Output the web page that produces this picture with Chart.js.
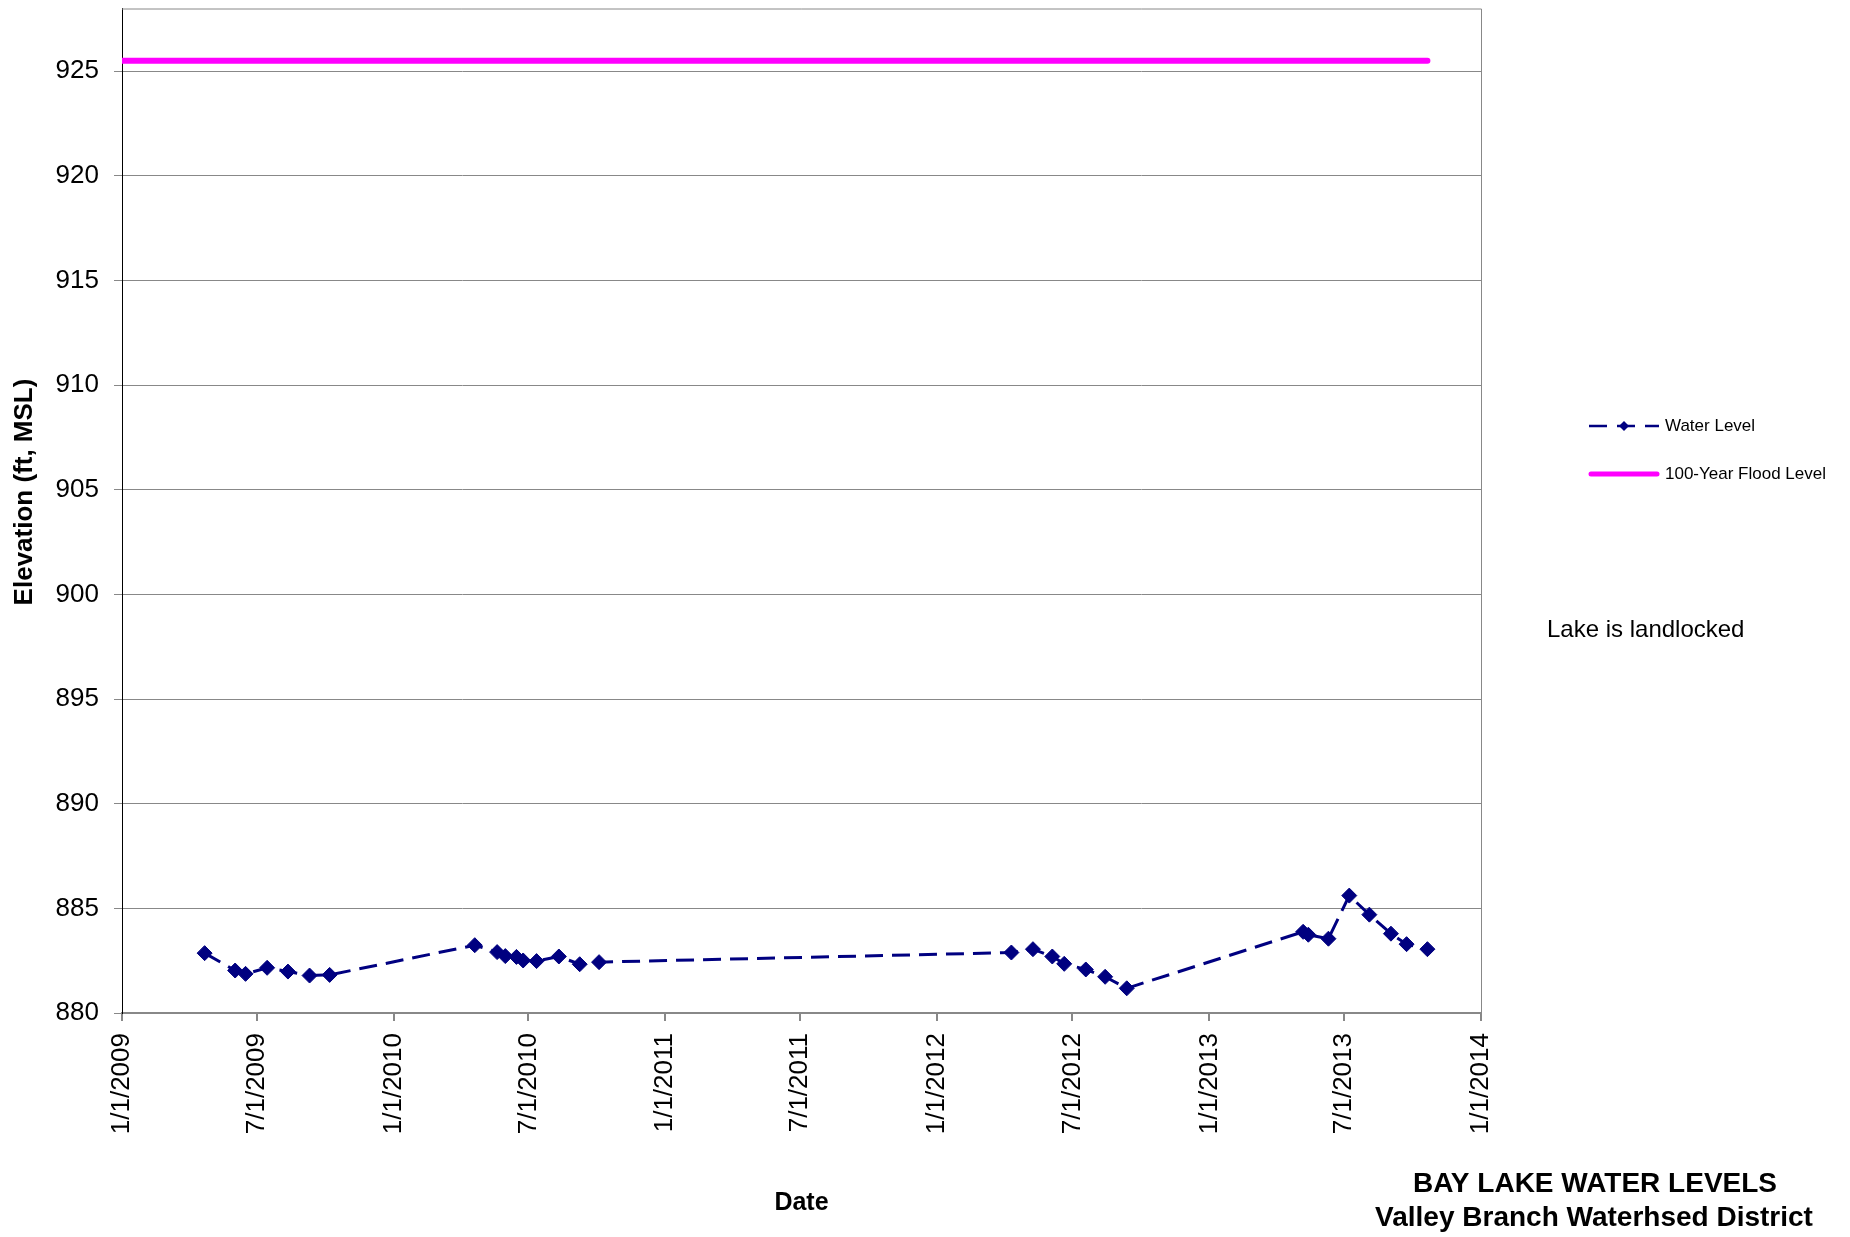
<!DOCTYPE html>
<html>
<head>
<meta charset="utf-8">
<script src="https://cdn.jsdelivr.net/npm/chart.js@4.4.1/dist/chart.umd.min.js"></script>
<style>
  html, body { margin: 0; padding: 0; background: #fff; }
  #wrap { width: 1850px; height: 1237px; position: relative; }
</style>
</head>
<body>
<div id="wrap"><canvas id="myChart"></canvas></div>
<script>
// water level readings
const dates = [
  '2009-04-22', '2009-06-02', '2009-06-16', '2009-07-15', '2009-08-12', '2009-09-10', '2009-10-07',
  '2010-04-20', '2010-05-20', '2010-05-31', '2010-06-15', '2010-06-24', '2010-07-12', '2010-08-11', '2010-09-08', '2010-10-04',
  '2012-04-10', '2012-05-09', '2012-06-04', '2012-06-20', '2012-07-19', '2012-08-14', '2012-09-12',
  '2013-05-07', '2013-05-14', '2013-06-10', '2013-07-08', '2013-08-04', '2013-09-02', '2013-09-23', '2013-10-21'
];
const levels = [
  882.86, 882.03, 881.87, 882.16, 881.98, 881.79, 881.82,
  883.24, 882.91, 882.72, 882.68, 882.51, 882.48, 882.70, 882.33, 882.43,
  882.89, 883.05, 882.70, 882.35, 882.08, 881.73, 881.18,
  883.88, 883.74, 883.55, 885.61, 884.70, 883.79, 883.29, 883.05
];
const floodDates = ['2009-01-01', '2013-10-21'];
const floodLevels = [925.5, 925.5];

const xTickDates = [
  '2009-01-01', '2009-07-01', '2010-01-01', '2010-07-01', '2011-01-01', '2011-07-01',
  '2012-01-01', '2012-07-01', '2013-01-01', '2013-07-01', '2014-01-01'
];
const yTicks = [880, 885, 890, 895, 900, 905, 910, 915, 920, 925];

const FONT = "'Liberation Sans', Arial, sans-serif";
Chart.defaults.font.family = FONT;
Chart.defaults.color = '#000';

function day(s) {
  const p = s.split('-');
  return Date.UTC(+p[0], +p[1] - 1, +p[2]) / 86400000;
}
function fmt(v) {
  const d = new Date(v * 86400000);
  return (d.getUTCMonth() + 1) + '/' + d.getUTCDate() + '/' + d.getUTCFullYear();
}

const waterData = dates.map((d, i) => ({ x: day(d), y: levels[i] }));
const floodData = floodDates.map((d, i) => ({ x: day(d), y: floodLevels[i] }));

const extras = {
  id: 'extras',
  beforeDatasetsDraw(chart) {
    const { ctx, chartArea: a } = chart;
    ctx.save();
    ctx.strokeStyle = '#888';
    ctx.lineWidth = 1;
    ctx.beginPath();
    ctx.moveTo(a.left, a.top + 0.5);
    ctx.lineTo(a.right + 0.5, a.top + 0.5);
    ctx.lineTo(a.right + 0.5, a.bottom);
    ctx.stroke();
    ctx.restore();
  },
  afterDraw(chart) {
    const ctx = chart.ctx;
    ctx.save();
    // y axis title
    ctx.translate(25, 492);
    ctx.rotate(-Math.PI / 2);
    ctx.font = 'bold 26px ' + FONT;
    ctx.fillStyle = '#000';
    ctx.textAlign = 'center';
    ctx.textBaseline = 'middle';
    ctx.fillText('Elevation (ft, MSL)', 0, 0);
    ctx.restore();

    ctx.save();
    // legend
    ctx.strokeStyle = '#000080';
    ctx.lineWidth = 2.5;
    ctx.setLineDash([18, 10]);
    ctx.beginPath();
    ctx.moveTo(1589, 426);
    ctx.lineTo(1659, 426);
    ctx.stroke();
    ctx.setLineDash([]);
    ctx.fillStyle = '#000080';
    ctx.beginPath();
    ctx.moveTo(1624, 421);
    ctx.lineTo(1629, 426);
    ctx.lineTo(1624, 431);
    ctx.lineTo(1619, 426);
    ctx.closePath();
    ctx.fill();

    ctx.strokeStyle = '#FF00FF';
    ctx.lineWidth = 5;
    ctx.lineCap = 'round';
    ctx.beginPath();
    ctx.moveTo(1591, 474);
    ctx.lineTo(1657, 474);
    ctx.stroke();

    ctx.fillStyle = '#000';
    ctx.font = '17px ' + FONT;
    ctx.textAlign = 'left';
    ctx.textBaseline = 'middle';
    ctx.fillText('Water Level', 1665, 426);
    ctx.fillText('100-Year Flood Level', 1665, 474);

    ctx.font = '24px ' + FONT;
    ctx.fillText('Lake is landlocked', 1547, 630);

    ctx.font = 'bold 28px ' + FONT;
    ctx.textAlign = 'center';
    ctx.fillText('BAY LAKE WATER LEVELS', 1595, 1184);
    ctx.fillText('Valley Branch Waterhsed District', 1594, 1218);
    ctx.restore();
  }
};

const ctx = document.getElementById('myChart');
const myChart = new Chart(ctx, {
  type: 'line',
  data: {
    datasets: [{
      label: 'Water Level',
      data: waterData,
      borderColor: '#000080',
      backgroundColor: '#000080',
      borderWidth: 3,
      borderDash: [18, 9],
      pointStyle: 'rectRot',
      pointRadius: 7.5,
      pointBorderWidth: 1,
      tension: 0
    }, {
      label: '100-Year Flood Level',
      data: floodData,
      borderColor: '#FF00FF',
      backgroundColor: '#FF00FF',
      borderWidth: 6,
      borderCapStyle: 'round',
      pointRadius: 0,
      tension: 0
    }]
  },
  options: {
    responsive: true,
    maintainAspectRatio: false,
    animation: false,
    layout: { padding: { top: 8, right: 369, bottom: 0, left: 0 } },
    plugins: {
      legend: { display: false },
      tooltip: { enabled: false }
    },
    scales: {
      x: {
        type: 'linear',
        min: day('2009-01-01'),
        max: day('2014-01-01'),
        afterBuildTicks: (s) => { s.ticks = xTickDates.map(d => ({ value: day(d) })); },
        afterFit: (s) => { s.height = 224; s.paddingLeft = 0; s.paddingRight = 0; },
        ticks: {
          callback: (v) => fmt(v),
          minRotation: 90,
          maxRotation: 90,
          autoSkip: false,
          padding: 12,
          font: { size: 26 }
        },
        grid: {
          drawOnChartArea: false,
          drawTicks: true,
          tickLength: 8,
          color: '#888',
          lineWidth: 2
        },
        border: { color: '#888', width: 2 },
        title: {
          display: true,
          text: 'Date',
          font: { size: 25, weight: 'bold' },
          padding: { top: 0, bottom: 19 }
        }
      },
      y: {
        min: 880,
        max: 928,
        afterBuildTicks: (s) => { s.ticks = yTicks.map(v => ({ value: v })); },
        afterFit: (s) => { s.width = 122; s.paddingTop = 0; s.paddingBottom = 0; },
        ticks: {
          padding: 15,
          font: { size: 26 }
        },
        grid: {
          color: '#888',
          lineWidth: 1,
          tickLength: 8
        },
        border: { color: '#000', width: 1 }
      }
    }
  },
  plugins: [extras]
});
</script>
</body>
</html>
